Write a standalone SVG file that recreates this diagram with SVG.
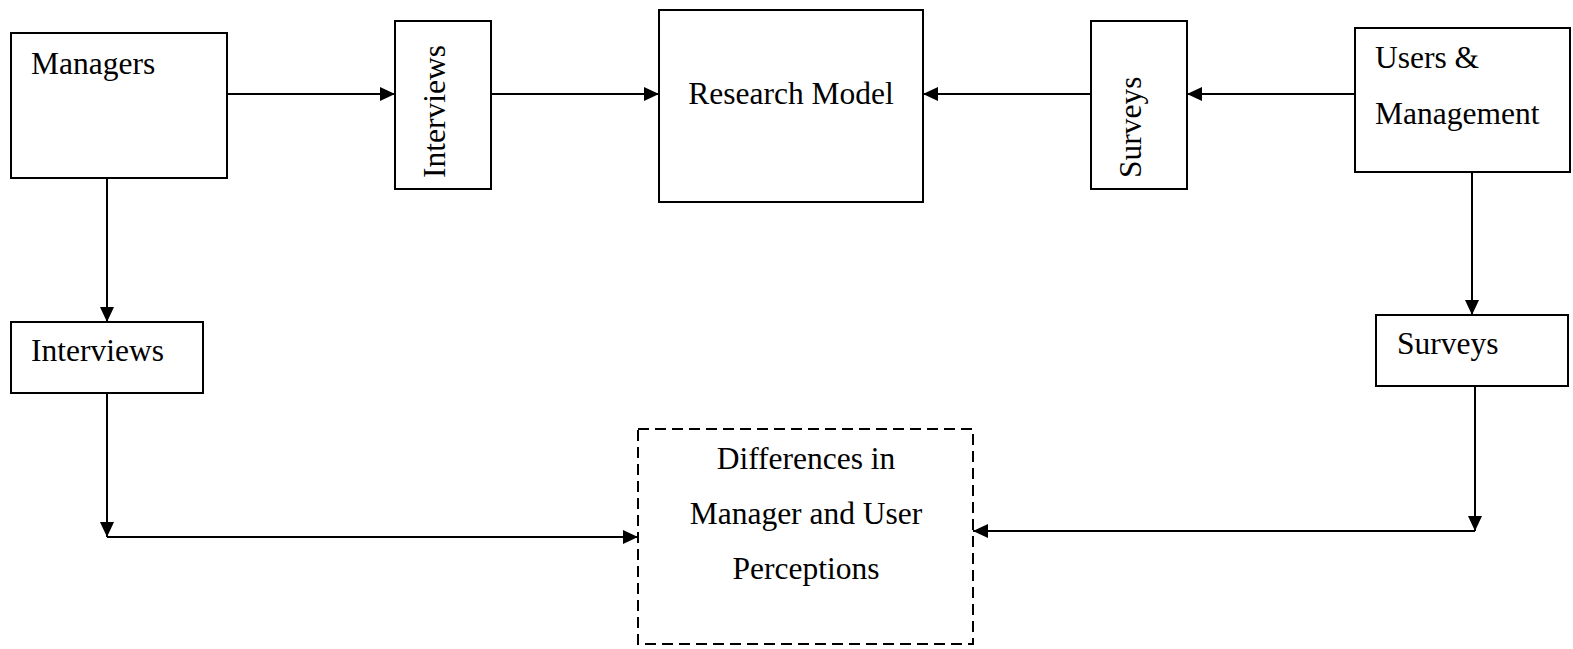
<svg xmlns="http://www.w3.org/2000/svg" width="1573" height="649" viewBox="0 0 1573 649">
  <style>
    .box { fill: #ffffff; stroke: #000000; stroke-width: 2; }
    .dashed { fill: #ffffff; stroke: #000000; stroke-width: 2; stroke-dasharray: 11 6; }
    .lbl { font-family: "Liberation Serif", "Times New Roman", serif; font-size: 31.5px; fill: #000000; }
    .mid { text-anchor: middle; }
    .conn { fill: none; stroke: #000000; stroke-width: 2; marker-end: url(#arrow); }
  </style>
  <defs>
    <marker id="arrow" markerUnits="userSpaceOnUse" markerWidth="16" markerHeight="14" refX="15" refY="7" orient="auto">
      <path d="M0,0 L15,7 L0,14 z" fill="#000000"/>
    </marker>
  </defs>
  <rect width="1573" height="649" fill="#ffffff"/>

  <g id="connectors">
    <path class="conn" d="M227,94 L395,94"/>
    <path class="conn" d="M491,94 L659,94"/>
    <path class="conn" d="M1355,94 L1187,94"/>
    <path class="conn" d="M1091,94 L923,94"/>
    <path class="conn" d="M107,178 L107,322"/>
    <path class="conn" d="M107,393 L107,537"/>
    <path class="conn" d="M107,537 L638,537"/>
    <path class="conn" d="M1472,172 L1472,315"/>
    <path class="conn" d="M1475,386 L1475,531"/>
    <path class="conn" d="M1475,531 L973,531"/>
  </g>

  <g id="managers">
    <rect class="box" x="11" y="33" width="216" height="145"/>
    <text class="lbl" x="31" y="74">Managers</text>
  </g>

  <g id="interviews-top">
    <rect class="box" x="395" y="21" width="96" height="168"/>
    <text class="lbl" transform="translate(445,178) rotate(-90)">Interviews</text>
  </g>

  <g id="research-model">
    <rect class="box" x="659" y="10" width="264" height="192"/>
    <text class="lbl mid" x="791" y="104">Research Model</text>
  </g>

  <g id="surveys-top">
    <rect class="box" x="1091" y="21" width="96" height="168"/>
    <text class="lbl" transform="translate(1141,178) rotate(-90)">Surveys</text>
  </g>

  <g id="users-management">
    <rect class="box" x="1355" y="28" width="215" height="144"/>
    <text class="lbl" x="1375" y="68">Users &amp;</text>
    <text class="lbl" x="1375" y="124">Management</text>
  </g>

  <g id="interviews-bottom">
    <rect class="box" x="11" y="322" width="192" height="71"/>
    <text class="lbl" x="31" y="361">Interviews</text>
  </g>

  <g id="surveys-bottom">
    <rect class="box" x="1376" y="315" width="192" height="71"/>
    <text class="lbl" x="1397" y="354">Surveys</text>
  </g>

  <g id="differences">
    <rect class="dashed" x="638" y="429" width="335" height="215"/>
    <text class="lbl mid" x="806" y="469">Differences in</text>
    <text class="lbl mid" x="806" y="524">Manager and User</text>
    <text class="lbl mid" x="806" y="579">Perceptions</text>
  </g>
</svg>
